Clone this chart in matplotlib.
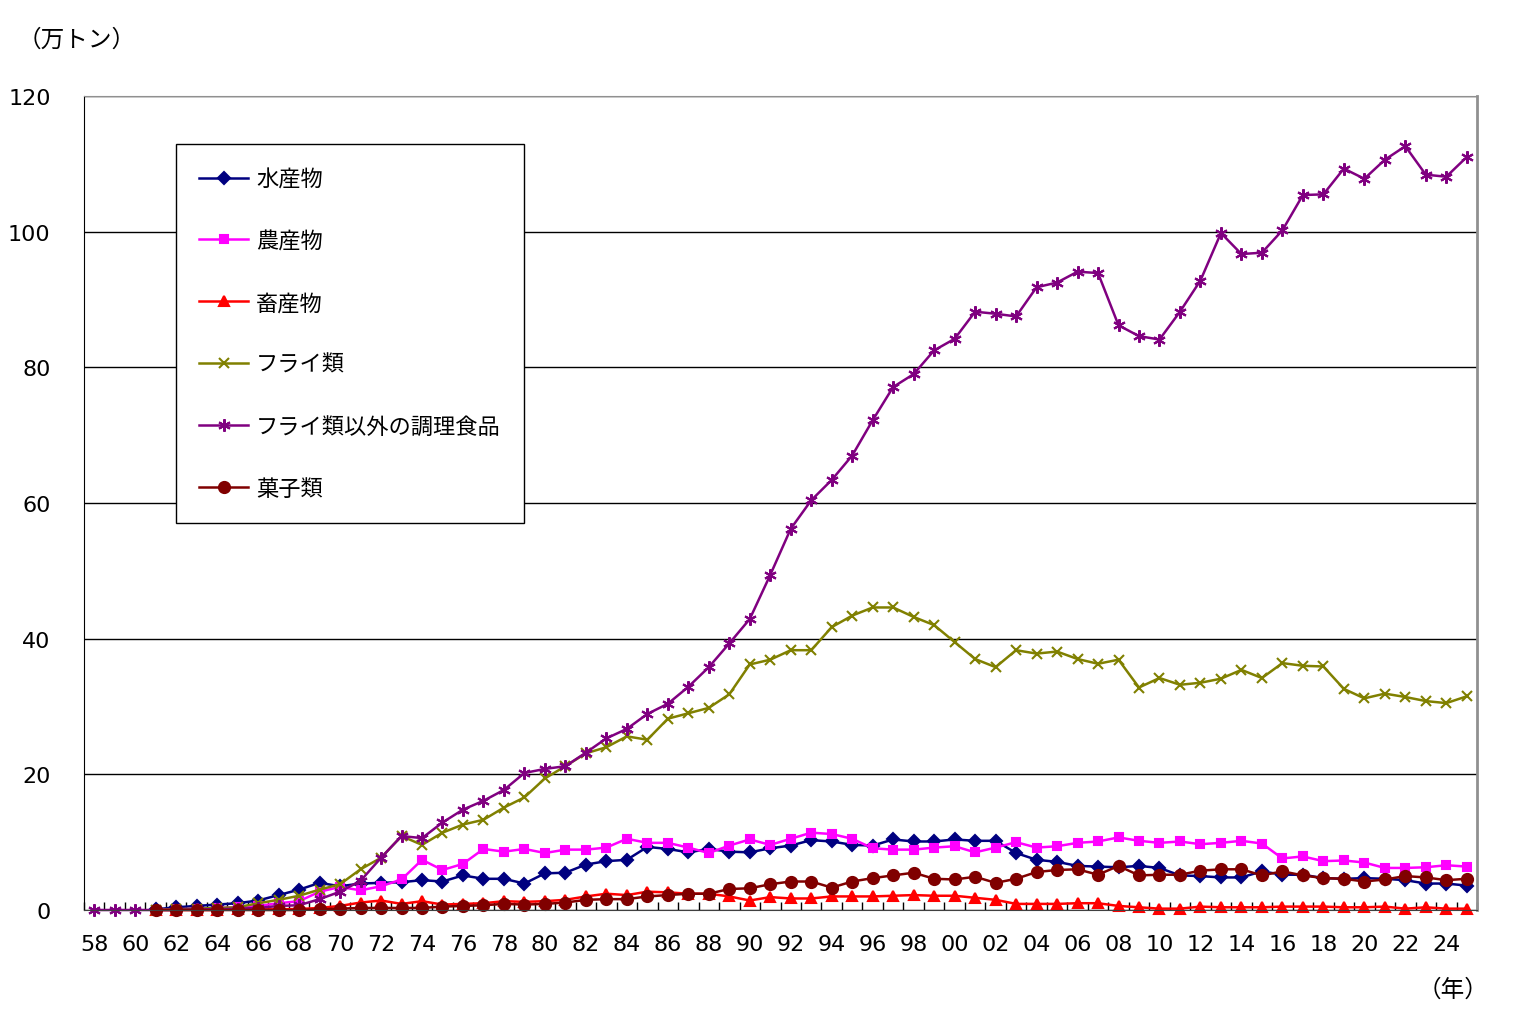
import numpy as np
import matplotlib.pyplot as plt

plt.rcParams['font.family'] = ['Noto Sans CJK JP', 'DejaVu Sans']

years = list(range(1958, 2026))
nan = np.nan

suisan = [nan, nan, nan, 0.1, 0.4, 0.6, 0.8, 1.0, 1.4, 2.2, 3.0, 4.0, 3.5, 3.9, 4.0, 4.1, 4.4, 4.2, 5.1, 4.6,
          4.6, 3.9, 5.4, 5.5, 6.7, 7.2, 7.4, 9.3, 9.0, 8.5, 9.0, 8.6, 8.5, 9.1, 9.5, 10.3, 10.1, 9.6, 9.5, 10.4,
          10.1, 10.1, 10.4, 10.2, 10.2, 8.4, 7.4, 7.1, 6.5, 6.4, 6.3, 6.5, 6.2, 5.1, 5.0, 4.8, 4.8, 5.7, 5.2, 5.2,
          4.7, 4.6, 4.7, 4.6, 4.4, 3.9, 3.9, 3.6]
nousan = [nan, nan, nan, 0.0, 0.1, 0.2, 0.3, 0.4, 0.6, 1.0, 1.3, 2.7, 3.4, 2.9, 3.5, 4.5, 7.4, 5.9, 6.8, 9.0,
          8.6, 9.0, 8.4, 8.9, 8.9, 9.2, 10.5, 9.9, 9.9, 9.2, 8.4, 9.5, 10.4, 9.6, 10.5, 11.4, 11.2, 10.5, 9.1, 8.9,
          8.9, 9.2, 9.4, 8.5, 9.2, 10.0, 9.2, 9.4, 9.9, 10.1, 10.7, 10.2, 9.9, 10.1, 9.7, 9.9, 10.2, 9.8, 7.6, 7.9,
          7.2, 7.3, 7.0, 6.2, 6.2, 6.3, 6.6, 6.4]
chikusan = [nan, nan, nan, 0.0, 0.0, 0.0, 0.0, 0.1, 0.1, 0.1, 0.15, 0.3, 0.6, 1.1, 1.4, 0.9, 1.3, 0.8, 0.9, 1.0,
            1.3, 1.2, 1.3, 1.5, 2.0, 2.4, 2.2, 2.7, 2.6, 2.4, 2.4, 2.0, 1.4, 1.9, 1.7, 1.7, 2.0, 2.0, 2.0, 2.1,
            2.2, 2.1, 2.1, 1.8, 1.5, 0.9, 0.9, 0.9, 1.0, 1.0, 0.6, 0.4, 0.2, 0.2, 0.5, 0.4, 0.4, 0.4, 0.5, 0.5,
            0.5, 0.4, 0.4, 0.5, 0.2, 0.4, 0.2, 0.2]
fry = [nan, nan, nan, 0.0, 0.1, 0.2, 0.3, 0.4, 1.0, 1.5, 2.1, 3.0, 3.8, 6.0, 7.7, 10.9, 9.6, 11.4, 12.6, 13.3,
       15.1, 16.6, 19.4, 21.2, 23.1, 24.0, 25.6, 25.1, 28.2, 29.0, 29.8, 31.8, 36.2, 36.9, 38.3, 38.3, 41.7, 43.4,
       44.6, 44.6, 43.2, 42.0, 39.5, 37.0, 35.8, 38.3, 37.8, 38.1, 37.0, 36.3, 36.9, 32.8, 34.2, 33.2, 33.5, 34.1,
       35.4, 34.2, 36.4, 36.0, 35.9, 32.6, 31.2, 31.9, 31.4, 30.8, 30.5, 31.5]
other = [0.0, 0.0, 0.0, 0.0, 0.0, 0.1, 0.1, 0.2, 0.3, 0.6, 0.7, 1.6, 2.7, 4.3, 7.7, 10.9, 10.6, 12.9, 14.8, 16.1,
         17.7, 20.2, 20.8, 21.2, 23.2, 25.3, 26.7, 28.9, 30.4, 32.9, 35.8, 39.3, 42.9, 49.4, 56.2, 60.4, 63.4, 67.0,
         72.2, 77.1, 79.0, 82.5, 84.2, 88.2, 87.9, 87.5, 91.8, 92.5, 94.1, 93.9, 86.2, 84.6, 84.1, 88.2, 92.8, 99.8,
         96.7, 96.9, 100.2, 105.4, 105.5, 109.3, 107.8, 110.6, 112.6, 108.4, 108.1, 111.0]
kashi = [nan, nan, nan, 0.0, 0.0, 0.0, 0.0, 0.0, 0.0, 0.0, 0.0, 0.1, 0.2, 0.3, 0.3, 0.3, 0.3, 0.5, 0.6, 0.7,
         0.9, 0.8, 0.9, 1.1, 1.5, 1.6, 1.6, 2.0, 2.2, 2.4, 2.4, 3.1, 3.2, 3.8, 4.2, 4.2, 3.3, 4.2, 4.7, 5.1,
         5.5, 4.6, 4.5, 4.9, 4.0, 4.6, 5.6, 5.9, 6.0, 5.2, 6.5, 5.1, 5.2, 5.2, 5.8, 6.0, 6.0, 5.1, 5.7, 5.1,
         4.7, 4.6, 4.2, 4.5, 5.0, 4.8, 4.4, 4.6]

names = ['水産物', '農産物', '畜産物', 'フライ類', 'フライ類以外の調理食品', '菓子類']
colors = ['#000080', '#FF00FF', '#FF0000', '#808000', '#800080', '#800000']
markers = ['D', 's', '^', 'x', (6, 2, 0), 'o']
msizes = [6, 6, 7, 7, 9, 8]
series = [suisan, nousan, chikusan, fry, other, kashi]

x = np.arange(len(years))

fig = plt.figure(figsize=(15.31, 10.20), dpi=100)
ax = fig.add_axes([84 / 1531, 1 - 911 / 1020, (1477 - 84) / 1531, (911 - 97) / 1020])

for i in range(len(series)):
    ax.plot(x, series[i], color=colors[i], marker=markers[i], ms=msizes[i], mew=1.5,
            lw=1.8, label=names[i], clip_on=False)

ax.set_xlim(-0.5, len(years) - 0.5)
ax.set_ylim(0, 120)
ax.set_yticks(range(0, 121, 20))
ax.yaxis.grid(True, color='black', lw=1.0)
ax.set_axisbelow(True)
ax.tick_params(axis='y', length=0, labelsize=16, pad=24)
for lab in ax.get_yticklabels():
    lab.set_family('DejaVu Sans')

ax.set_xticks(x[::2])
ax.set_xticklabels(['%02d' % (y % 100) for y in years[::2]], family='DejaVu Sans')
ax.set_xticks(np.arange(-0.5, len(years), 1), minor=True)
ax.tick_params(axis='x', which='major', length=0, labelsize=16, pad=17)
ax.tick_params(axis='x', which='minor', direction='in', length=6, width=1, color='black')

ax.spines['left'].set_color('black')
ax.spines['bottom'].set_color('#404040')
ax.spines['top'].set_color('#909090')
ax.spines['right'].set_color('#909090')
ax.spines['right'].set_linewidth(2)

leg = ax.legend(loc='upper left', bbox_to_anchor=(92 / 1393, 1 - 48 / 814), fontsize=16,
                frameon=True, fancybox=False, edgecolor='black', framealpha=1,
                labelspacing=1.75, handlelength=2.2, handletextpad=0.35,
                borderpad=1.05, borderaxespad=0)
leg.get_frame().set_linewidth(1.0)
leg.get_frame().set_width(355)

fig.text(18 / 1531, 1 - 40 / 1020, '（万トン）', fontsize=17, va='center', ha='left')
fig.text(1488 / 1531, 1 - 990 / 1020, '（年）', fontsize=17, va='center', ha='right')

plt.savefig('out.png', dpi=100)
